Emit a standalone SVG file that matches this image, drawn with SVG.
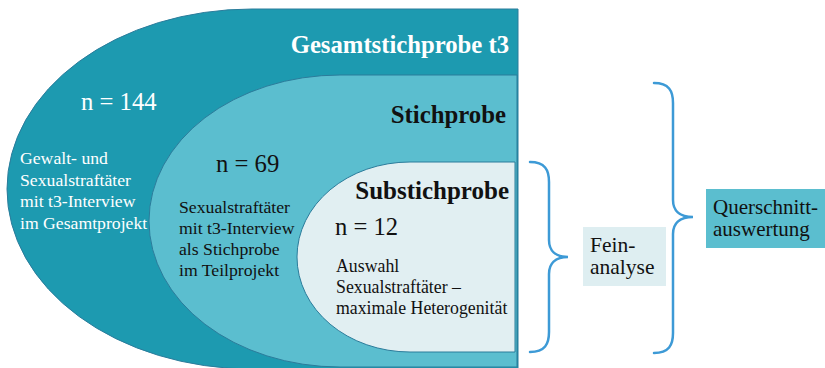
<svg xmlns="http://www.w3.org/2000/svg" width="825" height="368" viewBox="0 0 825 368">
<style>
text{font-family:'Liberation Serif','DejaVu Serif',serif}
.b{font-weight:bold}
.w{fill:#ffffff}
.k{fill:#111111}
.br{fill:none;stroke:#3d9ad6;stroke-width:2.5;stroke-linecap:round}
.sh{stroke:#2b7c9b;stroke-width:1}
</style>
<rect width="825" height="368" fill="#ffffff"/>
<g id="gesamt">
<path class="sh" d="M518,9 H252 A245,180 0 0 0 252,369 H518 Z" fill="#1d9ab0"/>
<text font-family="Liberation Serif, serif" class="b w" x="509" y="53" font-size="24.7" text-anchor="end">Gesamtstichprobe t3</text>
<text font-family="Liberation Serif, serif" class="w" x="81" y="110" font-size="24.7">n = 144</text>
<text font-family="Liberation Serif, serif" class="w" font-size="17.7"><tspan x="20" y="164">Gewalt- und</tspan><tspan x="20" y="185.5">Sexualstraftäter</tspan><tspan x="20" y="207">mit t3-Interview</tspan><tspan x="20" y="228.5">im Gesamtprojekt</tspan></text>
</g>
<g id="stichprobe">
<path class="sh" d="M517,75 H340 A191,146 0 0 0 340,367 H517 Z" fill="#5bbecf"/>
<text font-family="Liberation Serif, serif" class="b k" x="506" y="123" font-size="24.8" text-anchor="end">Stichprobe</text>
<text font-family="Liberation Serif, serif" class="k" x="216" y="172" font-size="24.7">n = 69</text>
<text font-family="Liberation Serif, serif" class="k" font-size="17.7"><tspan x="179" y="213">Sexualstraftäter</tspan><tspan x="179" y="234">mit t3-Interview</tspan><tspan x="179" y="255">als Stichprobe</tspan><tspan x="179" y="276">im Teilprojekt</tspan></text>
</g>
<g id="substichprobe">
<path class="sh" d="M515,162 H410 A113,95 0 0 0 410,352 H515 Z" fill="#e1eff2"/>
<text font-family="Liberation Serif, serif" class="b k" x="509" y="199" font-size="25" text-anchor="end">Substichprobe</text>
<text font-family="Liberation Serif, serif" class="k" x="335" y="235" font-size="24.6">n = 12</text>
<text font-family="Liberation Serif, serif" class="k" font-size="17.8"><tspan x="336" y="272">Auswahl</tspan><tspan x="336" y="293">Sexualstraftäter –</tspan><tspan x="336" y="314">maximale Heterogenität</tspan></text>
</g>
<g id="connectors">
<path class="br" d="M530,162 C545,162 549,170 549,182 V240 C549,250 555,257 568,257 C555,257 549,264 549,274 V332 C549,344 545,352 530,352"/>
<path class="br" d="M654,83 C669,83 673,91 673,103 V200 C673,210 679,217 693,217 C679,217 673,224 673,234 V333 C673,345 669,353 654,353"/>
</g>
<g id="feinanalyse">
<rect x="583" y="227" width="83" height="59" fill="#deeef1"/>
<text font-family="Liberation Serif, serif" class="k" font-size="21.5"><tspan x="590" y="251.5">Fein-</tspan><tspan x="590" y="273.5">analyse</tspan></text>
</g>
<g id="querschnitt">
<rect x="706" y="189" width="119" height="59" fill="#5bbecf"/>
<text font-family="Liberation Serif, serif" class="k" font-size="21"><tspan x="713" y="213.5">Querschnitt-</tspan><tspan x="713" y="236">auswertung</tspan></text>
</g>
</svg>
